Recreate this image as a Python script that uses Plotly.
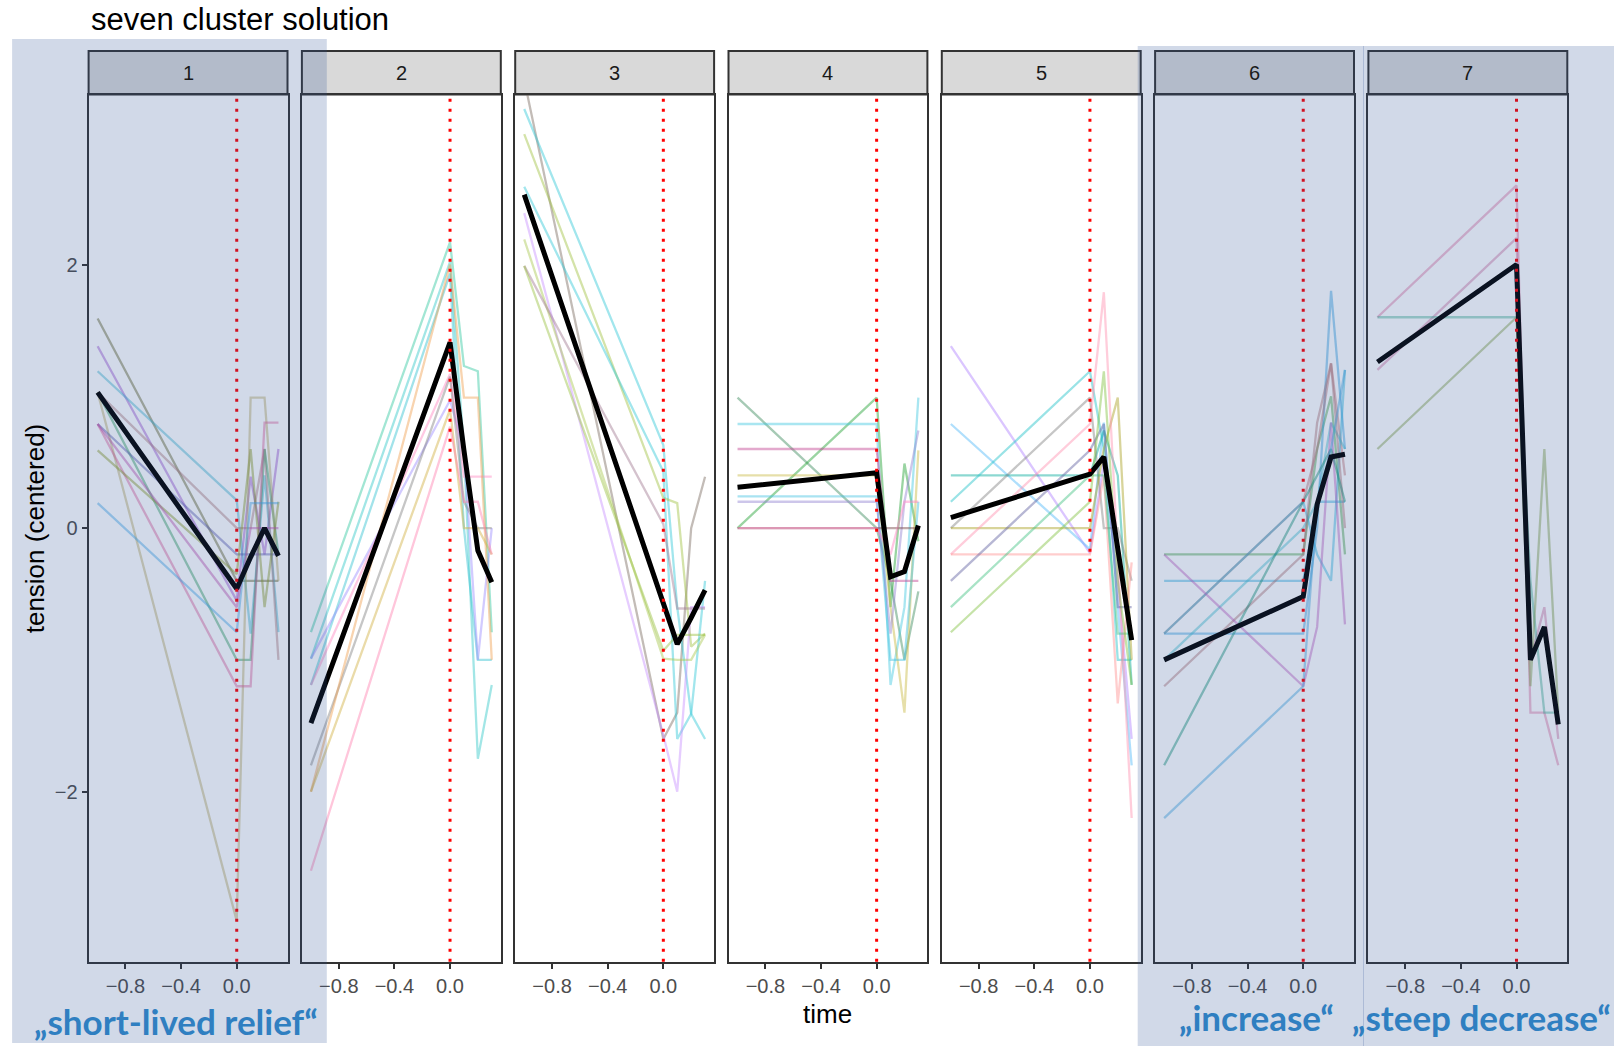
import plotly.graph_objects as go

# ---------------- data ----------------
TIME = [-1.0, 0.0, 0.1, 0.2, 0.3]
CLUSTERS = ["1", "2", "3", "4", "5", "6", "7"]
X_TICKS = [-0.8, -0.4, 0.0]
Y_TICKS = [-2, 0, 2]
EVENT_TIME = 0.0

P1_LINES = [
    [1.59, -0.40, -0.40, -0.40, -0.40],
    [1.38, -0.55, 0.39, -0.20, 0.60],
    [1.19, 0.21, -0.80, 0.40, -0.79],
    [1.03, 0.00, 0.00, 0.60, -1.00],
    [1.03, -1.00, -1.00, 0.60, -0.20],
    [1.03, -2.98, 0.99, 0.99, -0.40],
    [0.79, -0.20, -0.20, -0.20, -0.20],
    [0.79, -1.20, -1.20, 0.80, 0.80],
    [0.59, -0.35, 0.60, -0.60, 0.20],
    [0.19, -0.79, 0.19, 0.19, 0.19],
    [0.79, -0.60, 0.00, 0.00, 0.00],
]
P1_COLORS = ["#5E5E22", "#9B4FD0", "#3DB5D0", "#B07A7A", "#2E9E5A", "#B8A860",
             "#5A5AB0", "#E0609A", "#8A9A20", "#40A8E8", "#C050B0"]

P2_LINES = [
    [-0.79, 2.17, 1.23, 1.19, -0.79],
    [-0.99, 2.02, 0.60, -1.75, -1.19],
    [-1.19, 1.93, 0.00, -1.00, -1.00],
    [-0.99, 0.97, 0.60, -1.00, 0.00],
    [-1.19, 1.17, 0.39, 0.39, 0.39],
    [-1.80, 1.15, 0.20, 0.00, 0.00],
    [-2.00, 2.00, 0.99, 0.99, -1.00],
    [-2.00, 0.90, 0.00, 0.00, -0.20],
    [-2.60, 0.77, 0.20, 0.20, -0.20],
]
P2_COLORS = ["#30C8A0", "#30C8C8", "#30C0D0", "#9B8CFF", "#FF88C0", "#808080",
             "#F0A050", "#D0B040", "#FF80B0"]

P3_LINES = [
    [3.40, -1.60, -1.40, 0.00, 0.39],
    [3.18, 0.63, -0.60, -1.41, -1.60],
    [2.99, 0.23, 0.19, -0.90, -0.80],
    [2.59, 0.43, -1.60, -1.41, -0.40],
    [2.39, -1.57, -2.00, -0.60, -0.60],
    [2.19, -0.99, -1.00, -1.00, -0.81],
    [1.99, 0.03, -0.61, -0.61, -0.61],
    [1.99, -0.93, -0.81, -0.81, -0.81],
]
P3_COLORS = ["#7B6B60", "#30C8D8", "#A0C040", "#30C8D8", "#C890FF", "#A8C850",
             "#A07890", "#98C040"]

P4_LINES = [
    [0.99, 0.00, -0.40, -1.00, -0.48],
    [0.00, 0.99, -0.60, 0.49, -0.10],
    [0.79, 0.79, -1.19, -0.60, 0.99],
    [0.60, 0.60, -0.40, -0.40, -0.40],
    [0.40, 0.40, -0.60, -1.40, 0.59],
    [0.24, 0.24, -1.00, -1.00, 0.20],
    [0.20, 0.20, -0.80, 0.20, 0.74],
    [0.00, 0.00, 0.00, 0.00, 0.00],
    [0.00, 0.00, -0.20, 0.20, 0.20],
]
P4_COLORS = ["#3A8A5A", "#20A030", "#40C8E0", "#C04090", "#C8B840", "#40C0E0",
             "#9080D0", "#704040", "#FF80C0"]

P5_LINES = [
    [1.38, -0.19, 0.50, -0.40, -1.60],
    [0.79, -0.16, 0.80, -0.60, -1.80],
    [0.40, 0.40, 0.74, 0.40, -1.19],
    [0.20, 1.19, 0.60, -1.00, -1.00],
    [0.00, 0.99, 0.00, 0.00, -0.40],
    [0.00, 0.00, 0.60, 0.99, -1.00],
    [-0.20, 0.79, 1.79, -0.20, -2.20],
    [-0.20, -0.20, 0.40, -1.33, -0.26],
    [-0.40, 0.59, 0.79, -0.60, -0.60],
    [-0.60, 0.40, 0.40, -0.80, -0.80],
    [-0.79, 0.20, 1.19, -0.40, -1.19],
]
P5_COLORS = ["#B080FF", "#50B8F8", "#00A898", "#20C0C8", "#808080", "#A8A020",
             "#FF90B0", "#FF9090", "#6060A0", "#40C080", "#80C040"]

P6_LINES = [
    [-0.20, -0.20, 0.60, 1.00, -0.20],
    [-0.40, -0.40, 0.20, 0.20, 0.20],
    [-0.80, -0.80, 0.00, 1.80, 0.60],
    [-0.80, 0.20, 0.60, 1.25, 0.40],
    [-0.80, 0.20, -0.20, -0.40, 1.20],
    [-1.00, 0.00, 0.20, 0.80, 0.60],
    [-1.20, -0.20, 0.80, 1.25, 0.00],
    [-0.20, -1.20, -0.75, 0.80, -0.73],
    [-1.80, 0.20, 0.40, 0.60, 0.20],
    [-2.20, -1.20, 0.20, 0.60, 1.20],
]
P6_COLORS = ["#40A040", "#30B0E0", "#30A0E0", "#C07070", "#30B8E0", "#40C0D0",
             "#B07070", "#C060C0", "#109070", "#40A8E0"]

P7_LINES = [
    [1.60, 2.60, -1.40, -1.40, -1.80],
    [1.20, 2.20, -1.00, -0.60, -1.60],
    [1.60, 1.60, -0.40, -1.40, -1.40],
    [0.60, 1.60, -1.20, 0.60, -1.40],
]
P7_COLORS = ["#E070A0", "#D070A0", "#40B090", "#80A040"]

MEAN_LINES = [
    [1.03, -0.46, -0.22, 0.00, -0.21],
    [-1.48, 1.41, 0.59, -0.17, -0.41],
    [2.53, -0.57, -0.88, -0.68, -0.47],
    [0.31, 0.42, -0.37, -0.33, 0.02],
    [0.08, 0.41, 0.54, -0.15, -0.85],
    [-1.00, -0.52, 0.18, 0.54, 0.56],
    [1.26, 2.00, -1.00, -0.75, -1.49],
]

HIGHLIGHT_LABELS = ["\u201eshort-lived relief\u201c", "\u201eincrease\u201c", "\u201esteep decrease\u201c"]

ALL_LINES = [P1_LINES, P2_LINES, P3_LINES, P4_LINES, P5_LINES, P6_LINES, P7_LINES]
ALL_COLORS = [P1_COLORS, P2_COLORS, P3_COLORS, P4_COLORS, P5_COLORS, P6_COLORS, P7_COLORS]

# ---------------- layout geometry ----------------
W, H = 1614, 1046
PANEL_LEFT0 = 88.6
PANEL_PITCH = 213.3
PANEL_W = 198.9
PLOT_TOP = 94.5
PLOT_BOTTOM = 961.7
STRIP_TOP = 51.0
LINE_ALPHA = 0.45
FRAME = "#333333"


def px(x):
    return x / W


def py(y):
    return 1 - y / H


def rgba(hexcol, a):
    h = hexcol.lstrip("#")
    r, g, b = int(h[0:2], 16), int(h[2:4], 16), int(h[4:6], 16)
    return f"rgba({r},{g},{b},{a})"


fig = go.Figure()
axes = {}
shapes = []
annotations = []
tickfont = dict(family="Liberation Sans, Arial, sans-serif", size=20, color="#4d4d4d")

for i in range(7):
    n = "" if i == 0 else str(i + 1)
    xa, ya = "x" + n, "y" + n
    left = PANEL_LEFT0 + PANEL_PITCH * i
    right = left + PANEL_W
    for vals, col in zip(ALL_LINES[i], ALL_COLORS[i]):
        fig.add_trace(go.Scatter(x=TIME, y=vals, mode="lines",
                                 line=dict(color=rgba(col, LINE_ALPHA), width=2.3),
                                 xaxis=xa, yaxis=ya, showlegend=False, hoverinfo="skip"))
    fig.add_trace(go.Scatter(x=TIME, y=MEAN_LINES[i], mode="lines",
                             line=dict(color="black", width=5),
                             xaxis=xa, yaxis=ya, showlegend=False, hoverinfo="skip"))
    axes["xaxis" + n] = dict(domain=[px(left), px(right)], range=[-1.065, 0.365], anchor=ya,
                             tickvals=X_TICKS, tickformat=".1f", ticks="outside", ticklen=5,
                             tickwidth=2, tickcolor=FRAME, showline=True, mirror=True,
                             linecolor=FRAME, linewidth=2, showgrid=False, zeroline=False,
                             tickfont=tickfont, fixedrange=True)
    axes["yaxis" + n] = dict(domain=[py(PLOT_BOTTOM), py(PLOT_TOP)], range=[-3.29, 3.29], anchor=xa,
                             tickvals=Y_TICKS, tickformat="d", showticklabels=(i == 0),
                             ticks="outside" if i == 0 else "", ticklen=5, tickwidth=2,
                             tickcolor=FRAME, showline=True, mirror=True, linecolor=FRAME,
                             linewidth=2, showgrid=False, zeroline=False, tickfont=tickfont,
                             fixedrange=True)
    # strip
    shapes.append(dict(type="rect", xref="paper", yref="paper", x0=px(left), x1=px(right),
                       y0=py(PLOT_TOP), y1=py(STRIP_TOP), fillcolor="#d9d9d9",
                       line=dict(color=FRAME, width=2), layer="below"))
    annotations.append(dict(text=CLUSTERS[i], xref="paper", yref="paper",
                            x=px((left + right) / 2), y=py((STRIP_TOP + PLOT_TOP) / 2),
                            xanchor="center", yanchor="middle", showarrow=False,
                            font=dict(family="Liberation Sans, Arial, sans-serif", size=20,
                                      color="#1a1a1a")))
    # event line
    shapes.append(dict(type="line", xref=xa, yref=ya + " domain", x0=EVENT_TIME, x1=EVENT_TIME,
                       y0=0, y1=1, line=dict(color="#ff0000", width=3, dash="3px,7px"),
                       layer="above"))

# highlight overlays
OVERLAY = "rgba(44,82,150,0.22)"
for (x0, y0, x1, y1) in [(12.1, 39, 326.8, 1043), (1137.7, 46, 1364, 1046), (1363, 46, 1614, 1046)]:
    shapes.append(dict(type="rect", xref="paper", yref="paper", x0=px(x0), x1=px(x1),
                       y0=py(y1), y1=py(y0), fillcolor=OVERLAY, line=dict(width=0),
                       layer="above"))

# titles
annotations.append(dict(text="seven cluster solution", xref="paper", yref="paper",
                        x=px(88.6), y=py(19.5), xanchor="left", yanchor="middle",
                        showarrow=False,
                        font=dict(family="Liberation Sans, Arial, sans-serif", size=31,
                                  color="black")))
annotations.append(dict(text="tension (centered)", xref="paper", yref="paper",
                        x=px(35), y=py(528.3), xanchor="center", yanchor="middle",
                        textangle=-90, showarrow=False,
                        font=dict(family="Liberation Sans, Arial, sans-serif", size=26,
                                  color="black")))
annotations.append(dict(text="time", xref="paper", yref="paper",
                        x=px(PANEL_LEFT0 + PANEL_PITCH * 3 + PANEL_W / 2), y=py(1014),
                        xanchor="center", yanchor="middle", showarrow=False,
                        font=dict(family="Liberation Sans, Arial, sans-serif", size=26,
                                  color="black")))

BLUE = "#2f7fc1"
for label, cx, cy in zip(HIGHLIGHT_LABELS, [176, 1256, 1481], [1021, 1017, 1017]):
    annotations.append(dict(text="<b>" + label + "</b>", xref="paper", yref="paper",
                            x=px(cx), y=py(cy), xanchor="center", yanchor="middle",
                            showarrow=False,
                            font=dict(family="Lato, Open Sans, sans-serif", size=35, color=BLUE)))

fig.update_layout(width=W, height=H, margin=dict(l=0, r=0, t=0, b=0),
                  paper_bgcolor="white", plot_bgcolor="white",
                  shapes=shapes, annotations=annotations, showlegend=False, **axes)

fig.write_html("out.html")
